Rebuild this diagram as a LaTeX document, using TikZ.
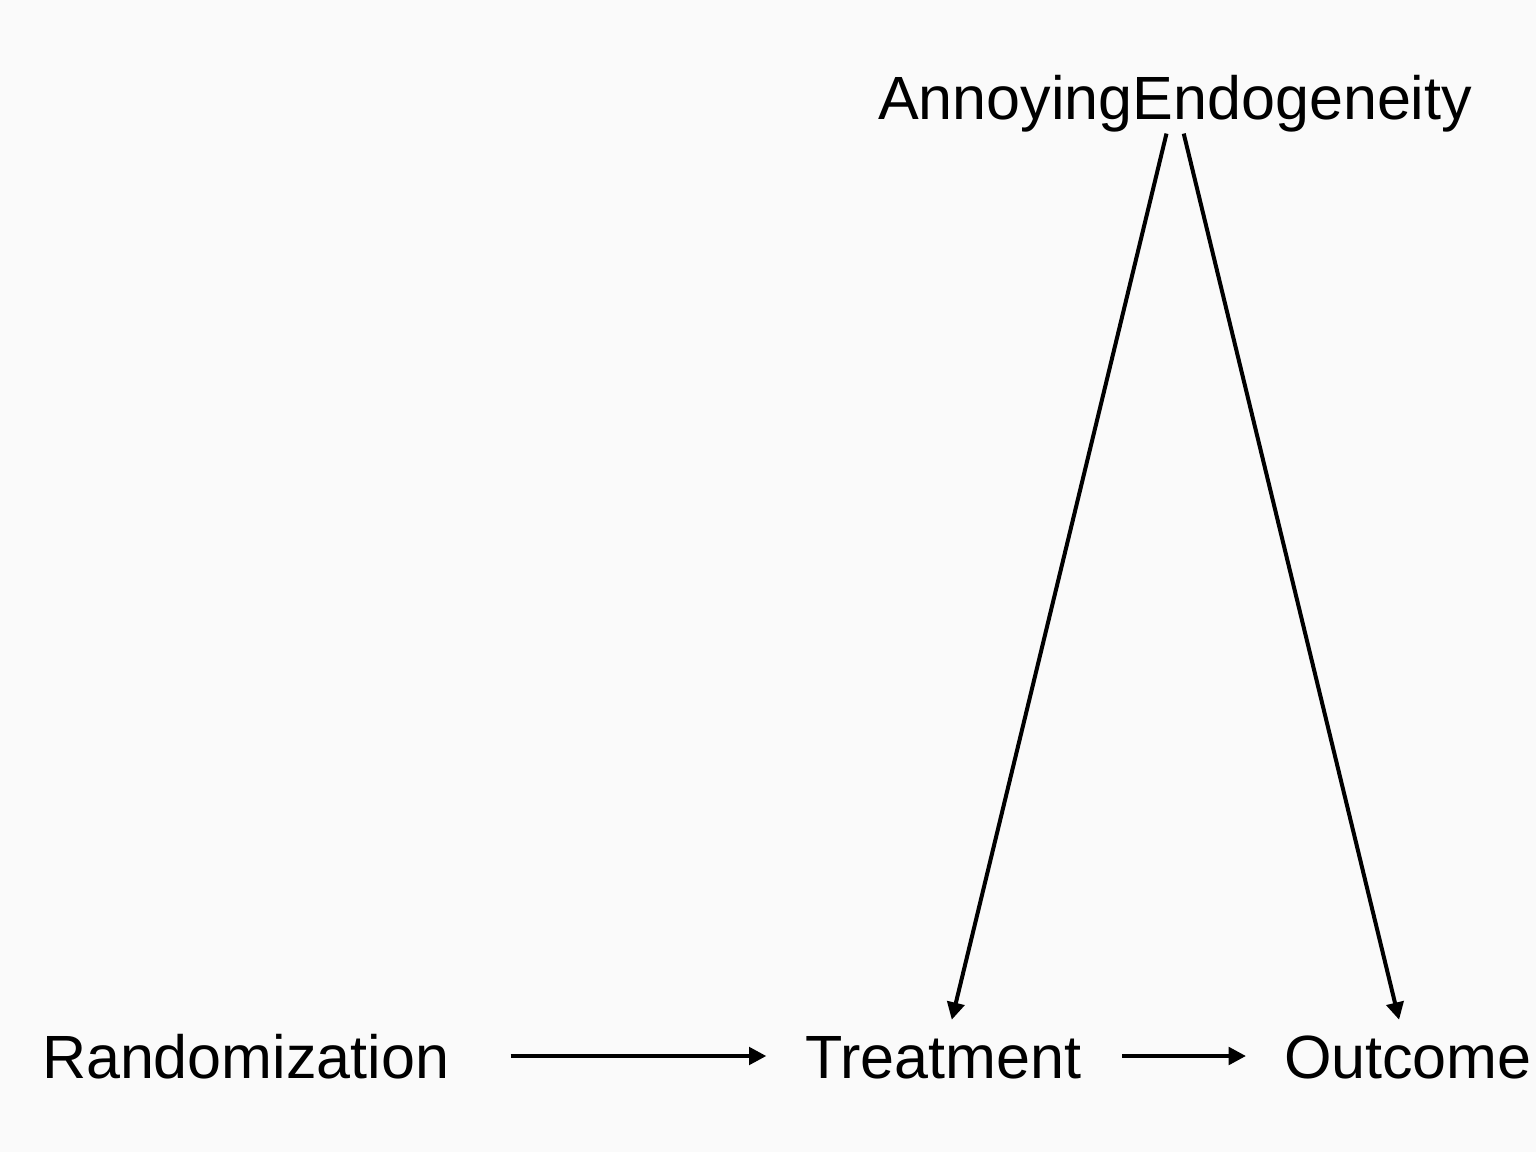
\documentclass[tikz,border=0pt]{standalone}
\usepackage{fontspec}
\setmainfont{Liberation Sans}
\usetikzlibrary{arrows.meta}
\definecolor{bg}{HTML}{FAFAFA}
\begin{document}
\begin{tikzpicture}[x=0.75pt,y=-0.75pt,
  lbl/.style={inner sep=0pt,outer sep=0pt,text height=33pt,text depth=0pt,font=\fontsize{45.8}{55}\selectfont},
  arr/.style={line width=3pt,-{Triangle[length=13pt,width=13pt]}}]
\fill[bg] (0,0) rectangle (1536,1152);
\useasboundingbox (0,0) rectangle (1536,1152);
\node[lbl,anchor=south west] (r) at (42,1078) {Randomization};
\node[lbl,anchor=south west] (t) at (805,1078) {Treatment};
\node[lbl,anchor=south west] (o) at (1284,1078) {Outcome};
\node[lbl,anchor=south west] (a) at (878,120) {AnnoyingEndogeneity};
\draw[arr,shorten <=46pt,shorten >=29pt] (r) -- (t);
\draw[arr,shorten <=31pt,shorten >=28.5pt] (t) -- (o);
\draw[arr,shorten <=10.5pt,shorten >=11pt] (a) -- (t);
\draw[arr,shorten <=10.5pt,shorten >=11pt] (a) -- (o);
\end{tikzpicture}
\end{document}
